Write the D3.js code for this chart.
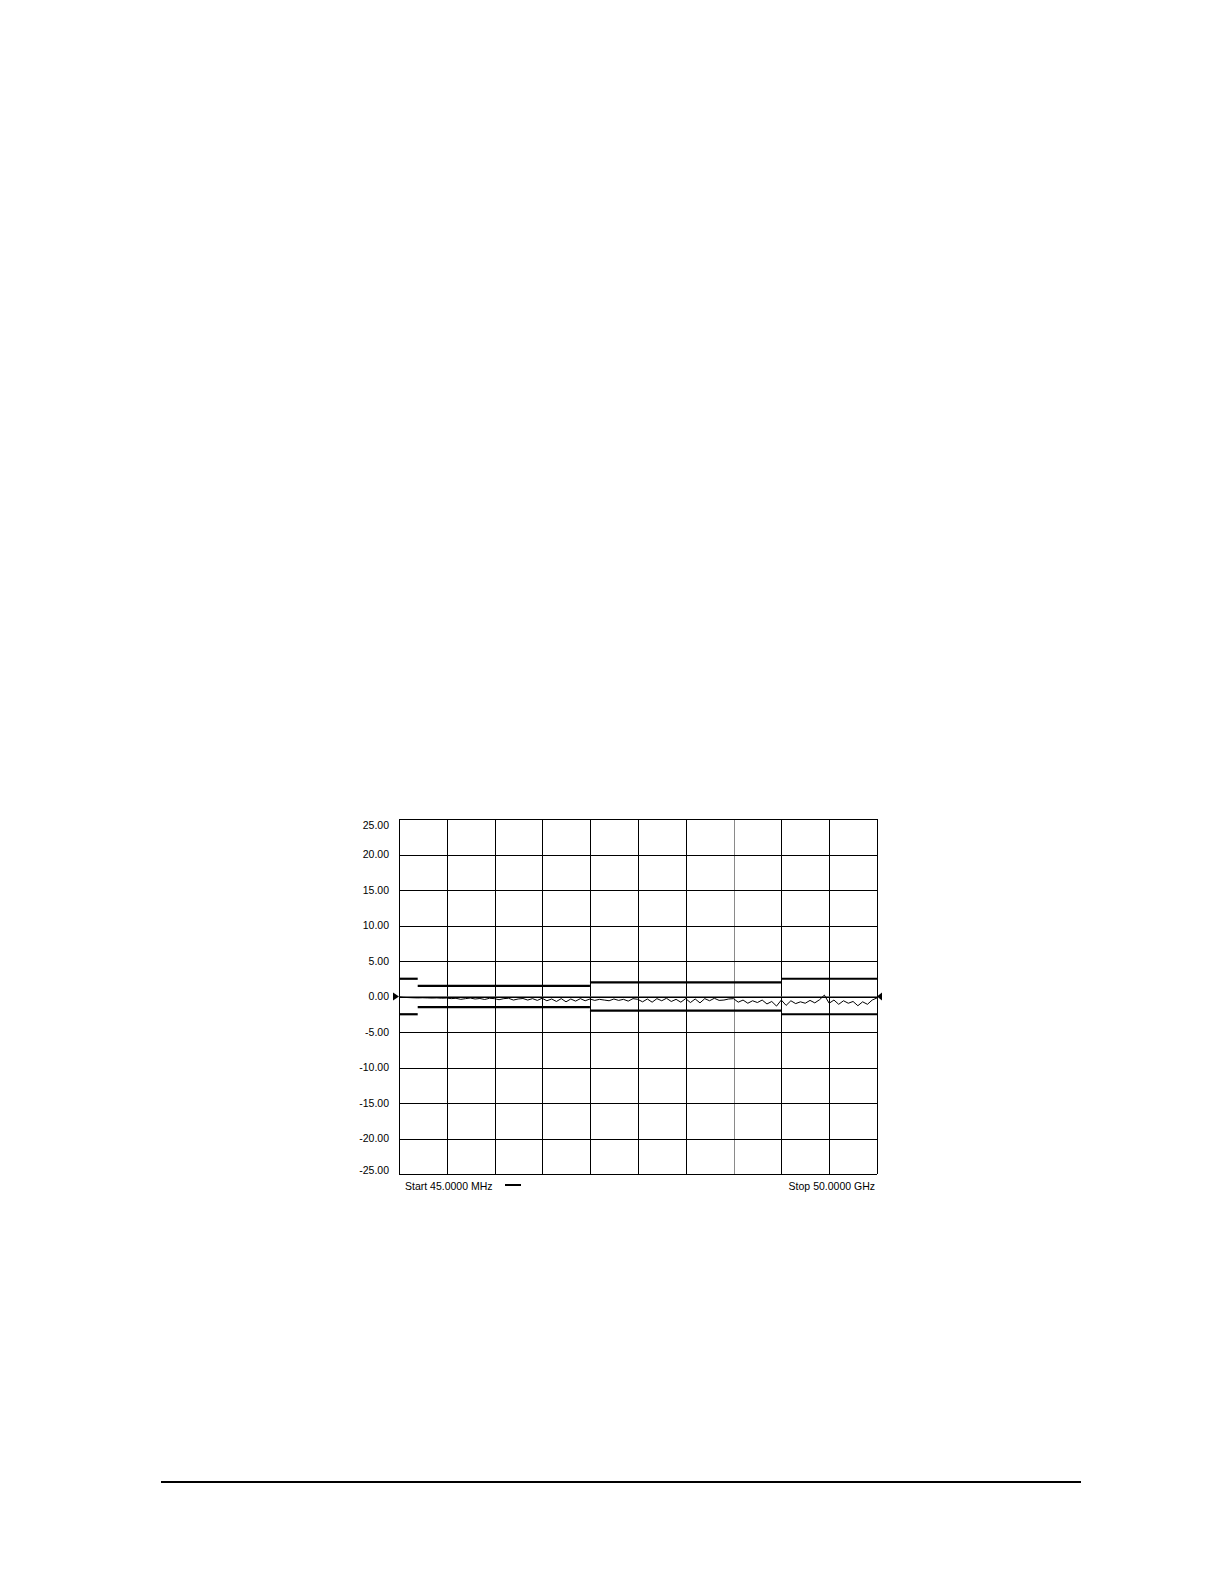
<!DOCTYPE html>
<html lang="en">
<head>
<meta charset="utf-8">
<title>Transmission response</title>
<script src="https://cdn.jsdelivr.net/npm/d3@7"></script>
<style>
  html, body { margin: 0; padding: 0; background: #fff; }
  svg text { font-family: "Liberation Sans", Arial, sans-serif; fill: #000; }
</style>
</head>
<body>
<div id="chart"></div>
<script>
// axis: dB, 5 per division
var yTicks = [25, 20, 15, 10, 5, 0, -5, -10, -15, -20, -25];
var yLabels = ["25.00", "20.00", "15.00", "10.00", "5.00", "0.00", "-5.00", "-10.00", "-15.00", "-20.00", "-25.00"];

// limit lines (GHz, dB)
var limitStart = [0.045, 2, 20, 40];
var limitStop = [2, 20, 40, 50];
var limitUpper = [2.5, 1.5, 2.0, 2.5];
var limitLower = [-2.5, -1.5, -2.0, -2.5];

var traceFreq = [0.045, 0.5, 1.0, 1.5, 2.0, 2.5, 3.0, 3.5, 4.0, 4.5,
  5.0, 5.5, 6.0, 6.5, 7.0, 7.5, 8.0, 8.5, 9.0, 9.5,
  10.0, 10.5, 11.0, 11.5, 12.0, 12.5, 13.0, 13.5, 14.0, 14.5,
  15.0, 15.5, 16.0, 16.5, 17.0, 17.5, 18.0, 18.5, 19.0, 19.5,
  20.0, 20.5, 21.0, 21.5, 22.0, 22.5, 23.0, 23.5, 24.0, 24.5,
  25.0, 25.5, 26.0, 26.5, 27.0, 27.5, 28.0, 28.5, 29.0, 29.5,
  30.0, 30.5, 31.0, 31.5, 32.0, 32.5, 33.0, 33.5, 34.0, 34.5,
  35.0, 35.5, 36.0, 36.5, 37.0, 37.5, 38.0, 38.5, 39.0, 39.5,
  40.0, 40.5, 41.0, 41.5, 42.0, 42.5, 43.0, 43.5, 44.0, 44.5,
  45.0, 45.5, 46.0, 46.5, 47.0, 47.5, 48.0, 48.5, 49.0, 49.5, 50.0];
var traceDb = [-0.05, -0.12, -0.15, -0.18, -0.2, -0.18, -0.2, -0.22, -0.2, -0.24,
  -0.22, -0.3, -0.25, -0.4, -0.3, -0.22, -0.35, -0.28, -0.42, -0.25,
  -0.3, -0.45, -0.3, -0.25, -0.5, -0.35, -0.28, -0.5, -0.3, -0.55,
  -0.25, -0.6, -0.35, -0.7, -0.3, -0.75, -0.35, -0.65, -0.3, -0.6,
  -0.35, -0.55, -0.4, -0.5, -0.6, -0.35, -0.55, -0.4, -0.65, -0.3,
  -0.4, -0.75, -0.35, -0.8, -0.3, -0.6, -0.25, -0.7, -0.4, -0.8,
  -0.3, -0.85, -0.35, -0.9, -0.3, -0.6, -0.25, -0.55, -0.5, -0.35,
  -0.3, -0.8, -0.5, -0.95, -0.6, -0.85, -0.5, -1.05, -0.7, -1.35,
  -0.5, -1.25, -0.6, -1.0, -0.75, -0.95, -0.55, -0.9, -0.45, 0.2,
  -0.95, -0.5, -1.1, -0.6, -0.95, -0.7, -1.3, -0.75, -1.1, -0.5, -0.2];

var startLabel = "Start  45.0000 MHz";
var stopLabel = "Stop  50.0000 GHz";

var W = 1224, H = 1582;

var svg = d3.select("#chart").append("svg")
  .attr("width", W)
  .attr("height", H);

// plot box
var x = d3.scaleLinear().domain([0.045, 50]).range([399, 877]);
var y = d3.scaleLinear().domain([-25, 25]).range([1174, 819]);
// ten equal divisions across
var div = d3.scaleLinear().domain([0, 10]).range(x.range());

var grid = svg.append("g").attr("shape-rendering", "crispEdges");

grid.selectAll("line.v")
  .data(d3.range(11))
  .enter().append("line")
  .attr("class", "v")
  .attr("x1", function(d) { return Math.round(div(d)) + 0.5; })
  .attr("x2", function(d) { return Math.round(div(d)) + 0.5; })
  .attr("y1", y.range()[1])
  .attr("y2", y.range()[0])
  .attr("stroke", function(d) { return d === 7 ? "#8a8a8a" : "#000"; })
  .attr("stroke-width", 1);

grid.selectAll("line.h")
  .data(yTicks)
  .enter().append("line")
  .attr("class", "h")
  .attr("x1", x.range()[0])
  .attr("x2", x.range()[1])
  .attr("y1", function(d) { return Math.round(y(d)) + 0.5; })
  .attr("y2", function(d) { return Math.round(y(d)) + 0.5; })
  .attr("stroke", "#000")
  .attr("stroke-width", 1);

// tick labels, end ones pulled inside the box
svg.append("g").selectAll("text")
  .data(yTicks)
  .enter().append("text")
  .attr("x", 389)
  .attr("y", function(d) {
    var off = d === 25 ? 6 : (d === -25 ? -3.5 : 0);
    return y(d) + off;
  })
  .attr("dy", "0.35em")
  .attr("text-anchor", "end")
  .attr("font-size", "10.5px")
  .text(function(d, i) { return yLabels[i]; });

// zero reference line
svg.append("line")
  .attr("x1", x.range()[0])
  .attr("x2", x.range()[1])
  .attr("y1", y(0))
  .attr("y2", y(0))
  .attr("stroke", "#444")
  .attr("stroke-width", 0.7);

// limit lines
var limits = svg.append("g").attr("stroke", "#000").attr("stroke-width", 2.2);
limitStart.forEach(function(f, i) {
  [limitUpper[i], limitLower[i]].forEach(function(v) {
    limits.append("line")
      .attr("x1", x(f))
      .attr("x2", x(limitStop[i]))
      .attr("y1", y(v))
      .attr("y2", y(v));
  });
});

// trace
var line = d3.line()
  .x(function(d, i) { return x(traceFreq[i]); })
  .y(function(d) { return y(d); });

svg.append("path")
  .datum(traceDb)
  .attr("d", line)
  .attr("fill", "none")
  .attr("stroke", "#000")
  .attr("stroke-width", 1);

// reference position markers
var y0 = y(0);
svg.append("path")
  .attr("d", d3.line()([[x(0.045) - 6, y0 - 4], [x(0.045), y0], [x(0.045) - 6, y0 + 4]]) + "Z")
  .attr("fill", "#000");
svg.append("path")
  .attr("d", d3.line()([[x(50) + 5, y0 - 4], [x(50), y0], [x(50) + 5, y0 + 4]]) + "Z")
  .attr("fill", "#000");

// footer text
svg.append("text")
  .attr("x", 405)
  .attr("y", 1186)
  .attr("dy", "0.35em")
  .attr("font-size", "10.5px")
  .text(startLabel);

svg.append("line")
  .attr("x1", 505)
  .attr("x2", 521)
  .attr("y1", 1185)
  .attr("y2", 1185)
  .attr("stroke", "#000")
  .attr("stroke-width", 2);

svg.append("text")
  .attr("x", 875)
  .attr("y", 1186)
  .attr("dy", "0.35em")
  .attr("text-anchor", "end")
  .attr("font-size", "10.5px")
  .text(stopLabel);

// page rule
svg.append("line")
  .attr("x1", 161)
  .attr("x2", 1081)
  .attr("y1", 1482)
  .attr("y2", 1482)
  .attr("stroke", "#000")
  .attr("stroke-width", 2);
</script>
</body>
</html>
